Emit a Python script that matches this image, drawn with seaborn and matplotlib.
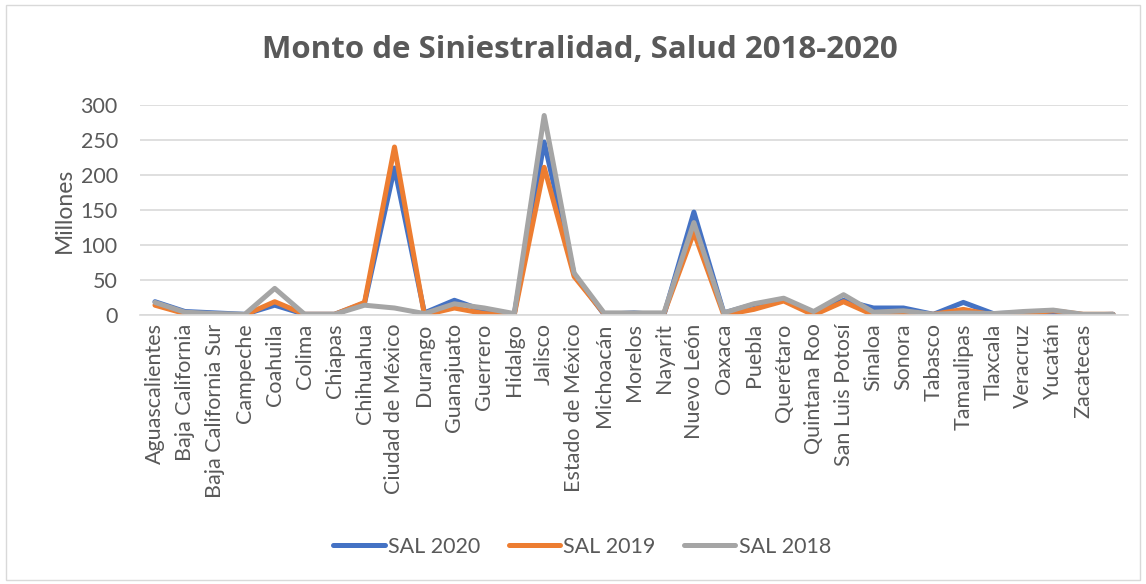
import pandas as pd
import numpy as np
import seaborn as sns
from matplotlib import pyplot as plt
from matplotlib.patches import Rectangle

estados = ["Aguascalientes", "Baja California", "Baja California Sur", "Campeche",
           "Coahuila", "Colima", "Chiapas", "Chihuahua", "Ciudad de México", "Durango",
           "Guanajuato", "Guerrero", "Hidalgo", "Jalisco", "Estado de México",
           "Michoacán", "Morelos", "Nayarit", "Nuevo León", "Oaxaca", "Puebla",
           "Querétaro", "Quintana Roo", "San Luis Potosí", "Sinaloa", "Sonora",
           "Tabasco", "Tamaulipas", "Tlaxcala", "Veracruz", "Yucatán", "Zacatecas", ""]

# millones de pesos
sal_2020 = [19, 5, 3, 1, 14, 1, 1, 17, 210, 3, 21, 6, 1, 247, 58, 1, 3, 0, 147,
            3, 15, 22, 3, 21, 10, 10, 1, 18, 2, 3, 3, 0, 1]
sal_2019 = [14, 2, 1, 0, 19, 1, 1, 18, 240, 0, 10, 2, 0, 211, 55, 2, 2, 2, 118,
            0, 8, 20, 0, 19, 0, 2, 1, 8, 0, 2, 6, 1, 1]
sal_2018 = [18, 4, 2, 1, 38, 1, 1, 14, 10, 2, 16, 10, 2, 285, 60, 3, 3, 3, 132,
            3, 16, 24, 5, 29, 4, 6, 1, 3, 2, 5, 7, 1, 1]

series = ["SAL 2020", "SAL 2019", "SAL 2018"]
colores = ["#4472C4", "#ED7D31", "#A5A5A5"]

pos = np.arange(len(estados))
df = pd.concat([
    pd.DataFrame({"pos": pos, "valor": vals, "serie": name})
    for name, vals in zip(series, [sal_2020, sal_2019, sal_2018])
])

sns.set_theme(style="white")
plt.rcParams['font.family'] = ['Lato', 'DejaVu Sans']
gris = "#595959"

fig = plt.figure(figsize=(11.46, 5.84), dpi=100)
ax = fig.add_axes([140 / 1146, 1 - 315 / 584, 988 / 1146, 210 / 584])

sns.lineplot(data=df, x="pos", y="valor", hue="serie", hue_order=series,
             palette=colores, linewidth=3.6, sort=False, ax=ax, legend=False)

ax.set_ylim(0, 300)
ax.set_xlim(-0.5, len(estados) - 0.5)
ax.set_yticks(range(0, 301, 50))
ax.yaxis.grid(True, color="#D9D9D9", linewidth=1.2)
ax.set_axisbelow(True)
for s in ["top", "right", "left"]:
    ax.spines[s].set_visible(False)
ax.spines["bottom"].set_color("#D9D9D9")
ax.spines["bottom"].set_linewidth(1.2)

ax.set_xticks(pos)
ax.set_xticklabels(estados, rotation=90, fontsize=15.5, color=gris)
ax.tick_params(axis="y", labelsize=15.5, labelcolor=gris, length=0, pad=16)
ax.tick_params(axis="x", length=0, pad=6)
ax.set_xlabel("")
ax.set_ylabel("Millones", fontsize=16.5, color=gris, labelpad=4)

fig.text(0.506, 0.914, "Monto de Siniestralidad, Salud 2018-2020", ha="center",
         va="center", fontsize=22.5, fontweight="bold", color=gris,
         family=['Open Sans', 'DejaVu Sans'])

handles = [plt.Line2D([], [], color=c, linewidth=3.6, solid_capstyle="round")
           for c in colores]
fig.legend(handles, series, loc="center", bbox_to_anchor=(0.508, 1 - 547 / 584),
           ncol=3, frameon=False, fontsize=15.5, labelcolor=gris,
           handlelength=2.4, handletextpad=0.15, columnspacing=1.3)

fig.patches.append(Rectangle((6 / 1146, 4 / 584), 1134 / 1146, 575 / 584,
                             transform=fig.transFigure, fill=False,
                             edgecolor="#D9D9D9", linewidth=1))

fig.savefig("out.png", dpi=100)
